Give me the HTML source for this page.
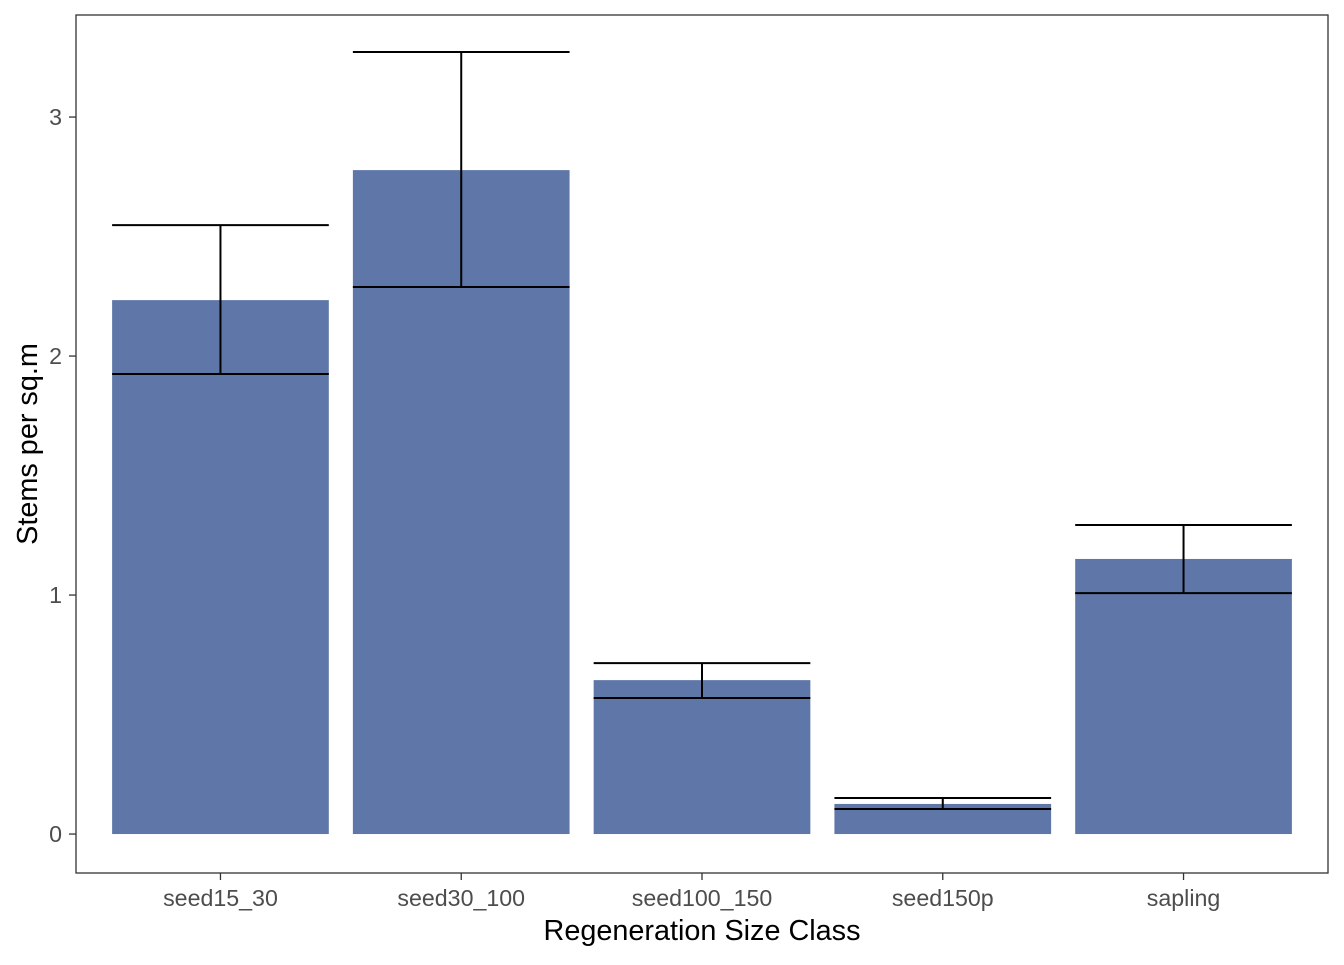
<!DOCTYPE html>
<html><head><meta charset="utf-8"><style>
body{margin:0;background:#fff;}
text{font-family:"Liberation Sans",Arial,sans-serif;}
</style></head><body>
<svg id="chart" width="1344" height="960" xmlns="http://www.w3.org/2000/svg">
<rect x="0" y="0" width="1344" height="960" fill="#fff"/>
<g id="bars"></g><g id="errs"></g>
<rect x="76" y="15" width="1252" height="858" fill="none" stroke="#333" stroke-width="1.3"/>
<g id="axes"></g>
<text x="702" y="940" text-anchor="middle" font-size="28.8" fill="#000">Regeneration Size Class</text>
<text transform="translate(37,444) rotate(-90)" text-anchor="middle" font-size="28.8" fill="#000">Stems per sq.m</text>
</svg>
<script>
const categories=["seed15_30","seed30_100","seed100_150","seed150p","sapling"];
const values=[2.234,2.778,0.644,0.126,1.151];
const upper=[2.548,3.272,0.715,0.151,1.293];
const lower=[1.925,2.289,0.569,0.105,1.008];
const yTicks=[0,1,2,3];
const NS="http://www.w3.org/2000/svg";
const px0=76,px1=1328,py0=873,py1=15,ymin=-0.163,ymax=3.427;
function x(i){return px0+(i+1-0.4)/5.2*(px1-px0);}
function y(v){return py0-(v-ymin)/(ymax-ymin)*(py0-py1);}
const bw=(px1-px0)/5.2*0.9;
function mk(tag,attrs,parent){const e=document.createElementNS(NS,tag);for(const k in attrs)e.setAttribute(k,attrs[k]);document.getElementById(parent).appendChild(e);return e;}
categories.forEach((c,i)=>{
 const b=mk("rect",{x:x(i)-bw/2,y:y(values[i]),width:bw,height:y(0)-y(values[i]),fill:"#5E77A8"},"bars");
 
 
 const g=mk("g",{stroke:"#000","stroke-width":2,fill:"none"},"errs");
 
 
 const yu=y(upper[i]),yl=y(lower[i]);
 [[x(i)-bw/2,yu,x(i)+bw/2,yu],[x(i)-bw/2,yl,x(i)+bw/2,yl],[x(i),yu,x(i),yl]].forEach(l=>{
  const e=document.createElementNS(NS,"line");e.setAttribute("x1",l[0]);e.setAttribute("y1",l[1]);e.setAttribute("x2",l[2]);e.setAttribute("y2",l[3]);g.appendChild(e);});
 mk("line",{x1:x(i),x2:x(i),y1:873,y2:880,stroke:"#333","stroke-width":1.3},"axes");
 const t=mk("text",{x:x(i),y:906,"text-anchor":"middle","font-size":23.2,fill:"#4d4d4d"},"axes");
 t.textContent=c;
 
 
});
yTicks.forEach(v=>{
 mk("line",{x1:69,x2:76,y1:y(v),y2:y(v),stroke:"#333","stroke-width":1.3},"axes");
 const t=mk("text",{x:62,y:y(v)+8,"text-anchor":"end","font-size":23.2,fill:"#4d4d4d"},"axes");
 t.textContent=v;
 
 
});
</script>
</body></html>
